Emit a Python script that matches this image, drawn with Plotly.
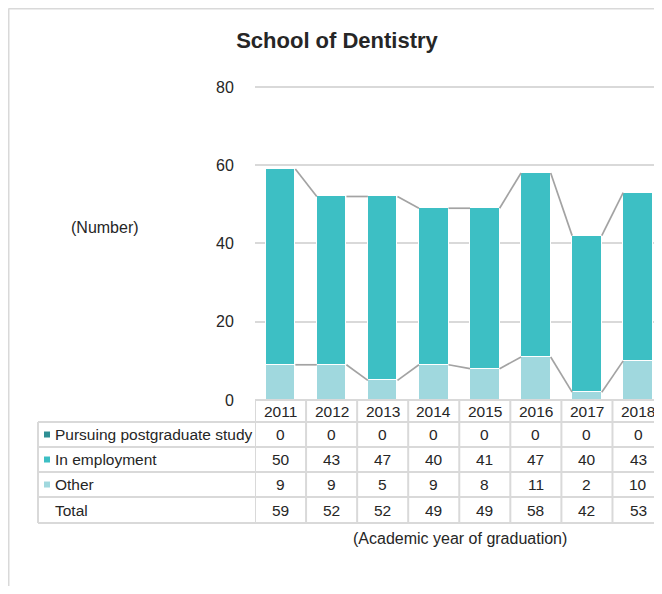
import plotly.graph_objects as go

# ---- data ----
years = ['2011', '2012', '2013', '2014', '2015', '2016', '2017', '2018']
pursuing = [0, 0, 0, 0, 0, 0, 0, 0]
employment = [50, 43, 47, 40, 41, 47, 40, 43]
other = [9, 9, 5, 9, 8, 11, 2, 10]
total = [59, 52, 52, 49, 49, 58, 42, 53]
series_names = ['Pursuing postgraduate study', 'In employment', 'Other']

# ---- style ----
OFF = 8  # page body margin
W, H = 662 - OFF, 594 - 2 * OFF
Y_MAX = 81
UNIT = 313 / 80  # px per unit
PLOT_BOTTOM = 400 - OFF
L, R = 255 - OFF, 0
PH = Y_MAX * UNIT
T = PLOT_BOTTOM - PH
B = H - PLOT_BOTTOM
PW = W - L - R
C_PUR = '#2f8f94'
C_EMP = '#3dbfc4'
C_OTH = '#a0d8de'
GRID = '#d9d9d9'
TXT = '#262626'
FONT = 'Arial, Liberation Sans, sans-serif'
BW = 0.58
XR = [-0.5, 7.47]


def px(x):
    return (x - OFF - L) / PW


def py(y):
    return (PLOT_BOTTOM - (y - OFF)) / PH


idx = list(range(len(years)))

fig = go.Figure()
fig.add_trace(go.Bar(x=idx, y=other, name=series_names[2], marker=dict(color=C_OTH, line=dict(color='white', width=1)), width=BW))
fig.add_trace(go.Bar(x=idx, y=employment, name=series_names[1], marker=dict(color=C_EMP, line=dict(color='white', width=1)), width=BW))
fig.add_trace(go.Bar(x=idx, y=pursuing, name=series_names[0], marker=dict(color=C_PUR, line=dict(width=0)), width=BW))

# series lines (connecting tops of stacked segments)
for level in [other, [o + e for o, e in zip(other, employment)]]:
    xs, ys = [], []
    for i in range(len(idx) - 1):
        xs += [idx[i] + BW / 2, idx[i + 1] - BW / 2, None]
        ys += [level[i], level[i + 1], None]
    fig.add_trace(go.Scatter(x=xs, y=ys, mode='lines', line=dict(color='#a3a3a3', width=1.7),
                             hoverinfo='skip', showlegend=False, cliponaxis=False))

shapes = []
line = dict(color=GRID, width=2)
# outer chart border
shapes.append(dict(type='line', xref='paper', yref='paper', x0=px(8.5), x1=px(700), y0=py(8.5), y1=py(8.5), line=line))
shapes.append(dict(type='line', xref='paper', yref='paper', x0=px(8.5), x1=px(8.5), y0=py(8.5), y1=py(620), line=line))

# table geometry
row_lines = [422, 447, 472, 497, 523]
tbl_left = 38
shapes.append(dict(type='line', xref='paper', yref='paper', x0=0, x1=1.05, y0=py(400), y1=py(400), line=line))
for yl in row_lines:
    shapes.append(dict(type='line', xref='paper', yref='paper', x0=px(tbl_left), x1=1.05, y0=py(yl), y1=py(yl), line=line))
shapes.append(dict(type='line', xref='paper', yref='paper', x0=px(tbl_left), x1=px(tbl_left), y0=py(422), y1=py(523), line=line))
for i in range(len(years) + 1):
    shapes.append(dict(type='line', xref='x', yref='paper', x0=i - 0.5, x1=i - 0.5, y0=py(400), y1=py(523), line=line))

# legend keys
for k, c in enumerate([C_PUR, C_EMP, C_OTH]):
    yc = (row_lines[k] + row_lines[k + 1]) / 2
    shapes.append(dict(type='rect', xref='paper', yref='paper', x0=px(44), x1=px(50), y0=py(yc - 3), y1=py(yc + 3),
                       fillcolor=c, line=dict(width=0)))

ann = []
tf = dict(family=FONT, size=15.5, color=TXT)
lf = dict(family=FONT, size=16, color=TXT)
for i, yr in enumerate(years):
    ann.append(dict(x=i, y=py(411), xref='x', yref='paper', text=yr, showarrow=False, font=tf,
                    xanchor='center', yanchor='middle'))
rows = [pursuing, employment, other, total]
labels = series_names + ['Total']
for r, (lab, vals) in enumerate(zip(labels, rows)):
    yc = (row_lines[r] + row_lines[r + 1]) / 2
    ann.append(dict(x=px(53), y=py(yc), xref='paper', yref='paper', text=lab, showarrow=False, font=tf,
                    xanchor='left', yanchor='middle'))
    for i, v in enumerate(vals):
        ann.append(dict(x=i, y=py(yc), xref='x', yref='paper', text=str(v), showarrow=False, font=tf,
                        xanchor='center', yanchor='middle'))

ann.append(dict(x=px(105), y=py(228), xref='paper', yref='paper', text='(Number)', showarrow=False, font=lf,
                xanchor='center', yanchor='middle'))
ann.append(dict(x=px(460), y=py(538), xref='paper', yref='paper', text='(Academic year of graduation)', showarrow=False,
                font=lf, xanchor='center', yanchor='middle'))

fig.update_layout(
    width=W, height=H,
    margin=dict(l=L, r=R, t=T, b=B, autoexpand=False),
    barmode='stack', bargap=0,
    plot_bgcolor='white', paper_bgcolor='white',
    showlegend=False,
    title=dict(text='<b>School of Dentistry</b>', x=(337 - OFF) / W, xref='container', xanchor='center',
               y=1 - (40 - OFF) / H, yref='container', yanchor='middle',
               font=dict(family=FONT, size=22, color=TXT)),
    xaxis=dict(range=XR, showticklabels=False, showgrid=False, zeroline=False, showline=False, fixedrange=True),
    yaxis=dict(range=[0, Y_MAX], tickvals=[0, 20, 40, 60, 80], showgrid=True, gridcolor=GRID, gridwidth=1.5,
               zeroline=False, showline=False,
               ticks='outside', ticklen=17, tickcolor='rgba(0,0,0,0)', tickfont=lf, automargin=False),
    shapes=shapes, annotations=ann,
)

fig.write_html('out.html')
